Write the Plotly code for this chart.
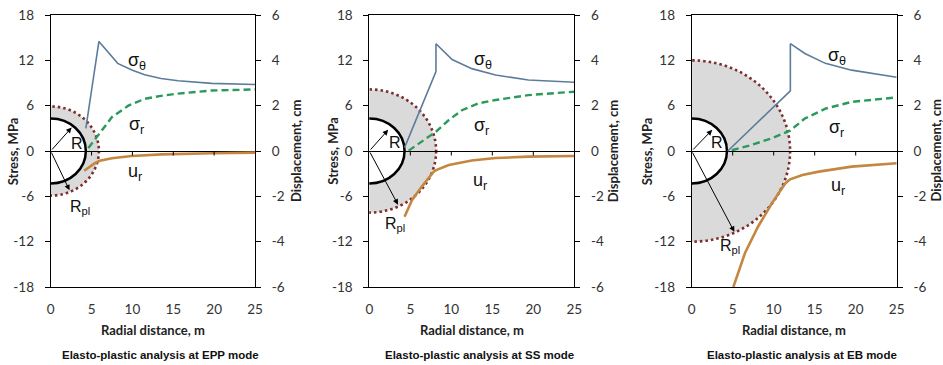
import plotly.graph_objects as go

# ---------------- data ----------------
modes = ["EPP", "SS", "EB"]
R_tunnel = 4.3
R_plastic = [5.9, 8.15, 12.0]

st1_x = [4.3, 5.9, 8.2, 10.0, 11.5, 13.5, 15.6, 19.7, 25]
st1_y = [3.0, 14.5, 11.6, 10.7, 10.1, 9.6, 9.3, 8.95, 8.8]
sr1_x = [4.6, 5.2, 5.9, 7.5, 9.5, 11.5, 13.5, 15.6, 19.7, 25]
sr1_y = [0.4, 1.3, 2.2, 4.5, 6.0, 6.9, 7.3, 7.6, 8.0, 8.15]
ur1_x = [4.1, 5.4, 6.0, 7.5, 9.9, 13.6, 19.7, 25]
ur1_y = [-0.87, -0.54, -0.43, -0.32, -0.22, -0.15, -0.10, -0.07]

st2_x = [4.3, 8.13, 8.13, 10.1, 12.5, 15.4, 19.4, 25]
st2_y = [0.44, 10.5, 14.2, 12.1, 10.9, 10.05, 9.4, 9.1]
sr2_x = [4.8, 6.4, 8.13, 9.7, 11.3, 13.3, 15.4, 19.4, 25]
sr2_y = [0.05, 1.2, 2.55, 4.1, 5.4, 6.3, 6.75, 7.4, 7.85]
ur2_x = [4.3, 5.2, 6.4, 7.85, 8.15, 9.7, 12.5, 15.4, 19.4, 25]
ur2_y = [-2.9, -2.17, -1.57, -0.91, -0.84, -0.62, -0.42, -0.31, -0.25, -0.22]

st3_x = [4.4, 12.03, 12.03, 13.8, 16.3, 19.5, 25]
st3_y = [0.0, 7.95, 14.2, 12.9, 11.6, 10.7, 9.75]
sr3_x = [4.9, 7.3, 9.8, 12.0, 13.8, 16.3, 19.5, 25]
sr3_y = [0.1, 0.8, 1.7, 2.7, 4.3, 5.6, 6.5, 7.1]
ur3_x = [5.08, 6.5, 8.1, 9.8, 11.4, 12.0, 13.5, 15.5, 19.5, 25]
ur3_y = [-6.0, -4.5, -3.33, -2.3, -1.43, -1.25, -1.06, -0.91, -0.69, -0.54]

sig_theta = [(st1_x, st1_y), (st2_x, st2_y), (st3_x, st3_y)]
sig_r = [(sr1_x, sr1_y), (sr2_x, sr2_y), (sr3_x, sr3_y)]
u_r = [(ur1_x, ur1_y), (ur2_x, ur2_y), (ur3_x, ur3_y)]

x_ticks = [0, 5, 10, 15, 20, 25]
stress_ticks = [-18, -12, -6, 0, 6, 12, 18]
disp_ticks = [-6, -4, -2, 0, 2, 4, 6]
stress_labels = ["-18", "-12", "-6", "0", "6", "12", "18"]
disp_labels = ["-6", "-4", "-2", "0", "2", "4", "6"]

# label positions (data units) for each panel
lbl_theta = [(10.6, 11.8), (13.9, 12.0), (17.7, 12.5)]
lbl_r = [(10.5, 3.4), (13.7, 3.2), (17.7, 3.0)]
lbl_u = [(10.3, -2.9), (13.5, -4.1), (17.9, -4.7)]
lbl_R = [(3.2, 1.0), (3.1, 1.1), (3.05, 1.1)]
lbl_Rpl = [(3.6, -7.5), (3.1, -9.7), (4.7, -12.7)]
arrow_R = [(2.56, 3.1), (2.3, 2.8), (2.5, 2.8)]
arrow_Rpl = [(2.3, -5.2), (3.5, -7.1), (5.2, -10.7)]

# ---------------- layout helpers ----------------
W, H = 943, 365
x_px = [(50.7, 255.0), (369.3, 574.3), (691.7, 896.7)]
y_top, y_bot = 15.0, 287.0


def fx(px):
    return px / W


def fy(py):
    return 1 - py / H


ydom = [fy(y_bot), fy(y_top)]

C_THETA = "#5d7c9c"
C_R = "#2a9a5a"
C_U = "#c4873f"
C_DOT = "#7b2d2d"
TICKFONT = dict(family="Lato, 'Open Sans', sans-serif", size=13.5, color="#333333")
TITLEFONT = dict(family="Lato, 'Open Sans', sans-serif", size=13, color="#222222")

fig = go.Figure()
layout = dict(width=W, height=H, margin=dict(l=0, r=0, t=0, b=0, autoexpand=False),
              paper_bgcolor="white", plot_bgcolor="white", showlegend=False)
shapes, annos = [], []

for i in range(3):
    xn = "x" if i == 0 else f"x{i+1}"
    yl = "y" if i == 0 else f"y{2*i+1}"
    yr = f"y{2*i+2}"
    xkey = "xaxis" if i == 0 else f"xaxis{i+1}"
    ylkey = "yaxis" if i == 0 else f"yaxis{2*i+1}"
    yrkey = f"yaxis{2*i+2}"
    xd = [fx(x_px[i][0]), fx(x_px[i][1])]

    layout[xkey] = dict(domain=xd, anchor=yl, range=[0, 25], tickvals=x_ticks,
                        showline=True, mirror=True, linecolor="black", linewidth=1,
                        showgrid=False, zeroline=False, ticks="", automargin=False,
                        tickfont=TICKFONT, ticklabelstandoff=10)
    layout[ylkey] = dict(domain=ydom, anchor=xn, range=[-18, 18], tickvals=stress_ticks,
                         ticktext=stress_labels,
                         showline=True, linecolor="black", linewidth=1,
                         ticks="outside", ticklen=5, tickcolor="black",
                         showgrid=False, zeroline=True, zerolinecolor="black",
                         zerolinewidth=1, tickfont=TICKFONT, ticklabelstandoff=8,
                         automargin=False)
    layout[yrkey] = dict(domain=ydom, anchor=xn, overlaying=yl, side="right",
                         range=[-6, 6], tickvals=disp_ticks, ticktext=disp_labels,
                         showline=True, linecolor="black", linewidth=1,
                         ticks="outside", ticklen=5, tickcolor="black",
                         showgrid=False, zeroline=False, tickfont=TICKFONT,
                         ticklabelstandoff=8, automargin=False)

    # plastic zone and tunnel
    rp = R_plastic[i]
    shapes.append(dict(type="circle", xref=xn, yref=yl, x0=-rp, x1=rp, y0=-rp, y1=rp,
                       fillcolor="#dadada", line=dict(color=C_DOT, width=2.6, dash="2.5px,3px"),
                       layer="below"))
    shapes.append(dict(type="circle", xref=xn, yref=yl, x0=-R_tunnel, x1=R_tunnel,
                       y0=-R_tunnel, y1=R_tunnel, fillcolor="white",
                       line=dict(color="black", width=2.5), layer="below"))
    # tick marks on the zero line
    for t in x_ticks[1:-1]:
        shapes.append(dict(type="line", xref=xn, yref=yl, x0=t, x1=t, y0=0, y1=-0.6,
                           line=dict(color="black", width=1)))

    # traces
    fig.add_trace(go.Scatter(x=sig_theta[i][0], y=sig_theta[i][1], mode="lines",
                             line=dict(color=C_THETA, width=1.6), xaxis=xn, yaxis=yl,
                             name="σθ"))
    fig.add_trace(go.Scatter(x=sig_r[i][0], y=sig_r[i][1], mode="lines",
                             line=dict(color=C_R, width=2.4, dash="7px,4px"),
                             xaxis=xn, yaxis=yl, name="σr"))
    fig.add_trace(go.Scatter(x=u_r[i][0], y=u_r[i][1], mode="lines",
                             line=dict(color=C_U, width=2.6), xaxis=xn, yaxis=yr,
                             name="ur"))

    # arrows
    for (hx, hy) in (arrow_R[i], arrow_Rpl[i]):
        annos.append(dict(x=hx, y=hy, ax=0, ay=0, xref=xn, yref=yl, axref=xn, ayref=yl,
                          text="", showarrow=True, arrowhead=2, arrowsize=1.1,
                          arrowwidth=1, arrowcolor="black", standoff=0, startstandoff=0))
    # curve labels
    lab = dict(family="Liberation Sans, Arial, sans-serif", size=18, color="#111111")
    annos.append(dict(x=lbl_theta[i][0], y=lbl_theta[i][1], xref=xn, yref=yl,
                      text="σ<sub>θ</sub>", showarrow=False, font=lab))
    annos.append(dict(x=lbl_r[i][0], y=lbl_r[i][1], xref=xn, yref=yl,
                      text="σ<sub>r</sub>", showarrow=False, font=lab))
    annos.append(dict(x=lbl_u[i][0], y=lbl_u[i][1], xref=xn, yref=yl,
                      text="u<sub>r</sub>", showarrow=False, font=lab))
    labR = dict(family="Liberation Sans, Arial, sans-serif", size=16, color="#111111")
    annos.append(dict(x=lbl_R[i][0], y=lbl_R[i][1], xref=xn, yref=yl,
                      text="R", showarrow=False, font=labR))
    annos.append(dict(x=lbl_Rpl[i][0], y=lbl_Rpl[i][1], xref=xn, yref=yl,
                      text="R<sub>pl</sub>", showarrow=False, font=labR))

    # axis titles and caption
    cx = (x_px[i][0] + x_px[i][1]) / 2
    left_title_x = [13.3, 332.7, 647.3][i]
    right_title_x = [296.0, 613.3, 935.5][i]
    annos.append(dict(x=fx(left_title_x), y=fy(151), xref="paper", yref="paper",
                      text="<b>Stress, MPa</b>", textangle=-90, showarrow=False,
                      font=TITLEFONT, xanchor="center", yanchor="middle"))
    annos.append(dict(x=fx(right_title_x), y=fy(151), xref="paper", yref="paper",
                      text="<b>Displacement, cm</b>", textangle=-90, showarrow=False,
                      font=TITLEFONT, xanchor="center", yanchor="middle"))
    annos.append(dict(x=fx(cx), y=fy(330), xref="paper", yref="paper",
                      text="<b>Radial distance, m</b>", showarrow=False,
                      font=TITLEFONT, xanchor="center", yanchor="middle"))
    annos.append(dict(x=fx(cx + 8), y=fy(355), xref="paper", yref="paper",
                      text=f"<b>Elasto-plastic analysis at {modes[i]} mode</b>",
                      showarrow=False, xanchor="center", yanchor="middle",
                      font=dict(family="Liberation Sans, Arial, sans-serif", size=11.5,
                                color="#111111")))

layout["shapes"] = shapes
layout["annotations"] = annos
fig.update_layout(**layout)
fig.write_html("out.html", config={"displayModeBar": False},
               post_script="document.body.style.margin='0';document.body.style.overflow='hidden';")
